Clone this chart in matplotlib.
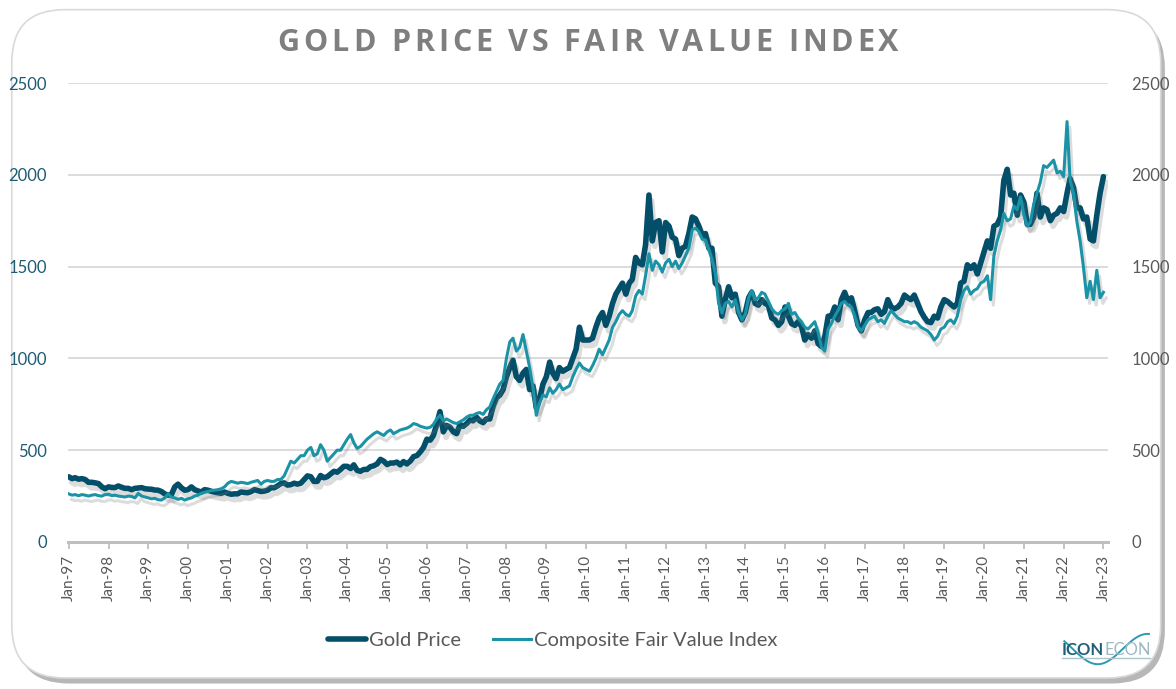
import matplotlib
matplotlib.use("Agg")
import matplotlib.pyplot as plt
import matplotlib.dates as mdates
import matplotlib.patheffects as pe
from matplotlib.patches import FancyBboxPatch
from matplotlib.lines import Line2D
import numpy as np
import pandas as pd

# monthly values, Jan-97 .. Jan-23
gold_price = [
    355, 345, 350, 342, 345, 340, 325, 325, 322, 318, 300, 290,
    300, 297, 296, 305, 298, 292, 292, 285, 292, 294, 296, 290,
    288, 287, 283, 282, 275, 262, 255, 258, 300, 315, 295, 282,
    285, 300, 285, 278, 272, 285, 282, 276, 272, 268, 265, 272,
    265, 260, 262, 262, 272, 270, 268, 274, 285, 280, 275, 277,
    282, 296, 295, 305, 318, 322, 310, 312, 320, 315, 320, 340,
    360, 355, 330, 330, 362, 350, 355, 370, 385, 380, 395, 412,
    412, 400, 420, 390, 385, 395, 395, 410, 415, 425, 450, 440,
    422, 430, 430, 435, 420, 438, 425, 440, 465, 470, 490, 515,
    560, 555, 580, 640, 710, 600, 635, 625, 600, 590, 640, 630,
    645, 665, 660, 680, 660, 650, 670, 670, 740, 785, 800, 830,
    900, 950, 990, 900, 880, 920, 940, 830, 850, 730, 780, 860,
    900, 980, 920, 890, 950, 930, 940, 950, 1000, 1050, 1170, 1100,
    1100, 1100, 1110, 1170, 1220, 1250, 1180, 1230, 1300, 1350, 1380, 1410,
    1350, 1410, 1430, 1550, 1520, 1510, 1620, 1890, 1640, 1740, 1750, 1580,
    1740, 1720, 1660, 1650, 1560, 1600, 1610, 1680, 1770, 1760, 1720, 1670,
    1680, 1600, 1600, 1410, 1390, 1230, 1320, 1390, 1330, 1350, 1250, 1210,
    1250, 1330, 1360, 1300, 1290, 1320, 1300, 1290, 1220, 1210, 1180, 1200,
    1280, 1230, 1190, 1180, 1200, 1175, 1100, 1130, 1110, 1150, 1080, 1065,
    1120, 1230, 1230, 1280, 1210, 1320, 1360, 1310, 1330, 1260, 1180, 1150,
    1210, 1250, 1250, 1265, 1270, 1240, 1255, 1320, 1280, 1270, 1280, 1300,
    1345, 1330, 1320, 1345, 1300, 1255, 1225, 1200, 1195, 1230, 1220, 1280,
    1320, 1310, 1295, 1280, 1300, 1410, 1420, 1510, 1490, 1510, 1460, 1520,
    1580, 1640, 1600, 1720, 1730, 1770, 1970, 2030, 1890, 1900, 1780, 1890,
    1850, 1730, 1730, 1770, 1900, 1770, 1820, 1810, 1750, 1780, 1790, 1820,
    1800, 1900, 1980, 1930, 1820, 1820, 1760, 1770, 1650, 1640, 1780, 1900,
    1990,
]

fair_value = [
    262, 255, 258, 252, 258, 255, 250, 255, 258, 252, 250, 258,
    260, 252, 255, 250, 248, 245, 250, 248, 240, 265, 250, 245,
    240, 235, 238, 230, 228, 240, 262, 245, 240, 232, 238, 228,
    235, 240, 250, 255, 265, 270, 275, 280, 282, 285, 290, 300,
    320, 330, 325, 320, 325, 322, 318, 325, 330, 335, 315, 330,
    335, 330, 330, 340, 340, 360, 400, 440, 430, 450, 470, 470,
    500, 515, 470, 480, 530, 500, 440, 460, 480, 500, 500, 530,
    560, 585, 540, 510, 520, 540, 560, 575, 590, 600, 590, 580,
    600, 610, 590, 600, 610, 615, 620, 630, 645, 640, 630, 625,
    620, 625, 640, 670, 690, 660, 670, 660, 650, 645, 655, 665,
    680, 690, 690, 700, 705, 695, 720, 735, 780, 820, 860, 880,
    1000, 1090, 1110, 1040, 1060, 1130, 1040, 950, 840, 690, 760, 800,
    790, 840, 810, 830, 860, 830, 840, 850, 900, 940, 975, 950,
    940, 930, 960, 1000, 1050, 1020, 1060, 1100, 1170, 1200, 1240, 1260,
    1240, 1230, 1260, 1340, 1370, 1350, 1450, 1570, 1480, 1530, 1510, 1470,
    1520, 1540, 1500, 1530, 1490, 1520, 1560, 1600, 1700, 1710, 1690, 1650,
    1645, 1590, 1540, 1465, 1300, 1247, 1300, 1310, 1280, 1320, 1250, 1210,
    1240, 1330, 1370, 1320, 1330, 1360, 1350, 1310, 1270, 1250, 1240, 1260,
    1270, 1300, 1240, 1250, 1220, 1200, 1170, 1160, 1180, 1200, 1140, 1060,
    1040, 1160, 1190, 1230, 1260, 1300, 1310, 1290, 1280, 1230, 1170, 1150,
    1180, 1210, 1220, 1230, 1200, 1210, 1190, 1230, 1260, 1240, 1220, 1210,
    1200, 1200, 1190, 1200, 1190, 1170, 1160, 1150, 1130, 1100, 1120, 1160,
    1170, 1200, 1210, 1190, 1230, 1320, 1370, 1390, 1350, 1370, 1380, 1410,
    1420, 1450, 1320, 1560, 1640, 1700, 1790, 1750, 1760, 1830, 1810, 1880,
    1780, 1720, 1740, 1840, 1900, 1960, 2050, 2040, 2060, 2080, 2010, 2020,
    1990, 2290, 1970, 1900, 1750, 1640, 1500, 1330, 1420, 1320, 1480, 1330,
    1360,
]

dates = pd.date_range("1997-01-01", periods=len(gold_price), freq="MS")
y_ticks = [0, 500, 1000, 1500, 2000, 2500]
title = "GOLD PRICE VS FAIR VALUE INDEX"

gold_col = "#034e69"
fv_col = "#1b93a7"
grey_txt = "#595959"
left_txt = "#1f5b75"

plt.rcParams["font.family"] = ["Lato", "DejaVu Sans"]

fig = plt.figure(figsize=(11.76, 6.89), dpi=100)

# rounded card with shadow
card = FancyBboxPatch((0.010, 0.016), 0.977, 0.970,
                      boxstyle="round,pad=0,rounding_size=0.045",
                      transform=fig.transFigure, facecolor="white",
                      edgecolor="#d9d9d9", linewidth=1.2, zorder=-10,
                      mutation_aspect=1176 / 689)
card.set_path_effects([pe.SimplePatchShadow(offset=(3, -4), shadow_rgbFace="#888888", alpha=0.6),
                       pe.Normal()])
fig.patches.append(card)

ax = fig.add_axes([0.0578, 0.2134, 0.8842, 0.6661])
ax.set_facecolor("none")

shadow = [pe.SimpleLineShadow(offset=(2, -4), shadow_color="#777777", alpha=0.25), pe.Normal()]
ax.plot(dates, gold_price, color=gold_col, lw=4.0,
        solid_capstyle="round", path_effects=shadow, zorder=3)
ax.plot(dates, fair_value, color=fv_col, lw=2.2,
        path_effects=shadow, zorder=4)

ax.set_ylim(0, 2500)
ax.set_yticks(y_ticks)
ax.set_xlim(pd.Timestamp("1996-12-25"), pd.Timestamp("2023-02-10"))
ax.xaxis.set_major_locator(mdates.YearLocator(1, month=1, day=1))
ax.xaxis.set_major_formatter(mdates.DateFormatter("%b-%y"))
ax.grid(axis="y", color="#d9d9d9", lw=1.3)
ax.set_axisbelow(True)
for s in ["top", "right", "left"]:
    ax.spines[s].set_visible(False)
ax.spines["bottom"].set_color("#bfbfbf")
ax.spines["bottom"].set_linewidth(2.2)
ax.tick_params(axis="x", rotation=90, labelsize=11, labelcolor=grey_txt,
               color="#bfbfbf", length=5, width=1.3, pad=4)
ax.tick_params(axis="y", length=0, labelsize=12, labelcolor=left_txt, pad=15)

ax2 = ax.twinx()
ax2.set_ylim(0, 2500)
ax2.set_yticks(y_ticks)
for s in ["top", "right", "left", "bottom"]:
    ax2.spines[s].set_visible(False)
ax2.tick_params(axis="y", length=0, labelsize=12, labelcolor=grey_txt, pad=17)

# title with letter spacing: place characters one by one
renderer = fig.canvas.get_renderer()
tkw = dict(fontsize=22, fontweight="bold", color="#7f7f7f",
           family=["Open Sans", "DejaVu Sans"], va="center", ha="left")
spacing = 3.9  # px between letters
widths = []
for ch in title:
    t = fig.text(0, 0, ch if ch != " " else "_", **tkw)
    widths.append(t.get_window_extent(renderer).width * (0.6 if ch == " " else 1.0))
    t.remove()
total = sum(widths) + spacing * (len(title) - 1)
x = (fig.bbox.width - total) / 2
for ch, w in zip(title, widths):
    if ch != " ":
        fig.text(x / fig.bbox.width, 0.937, ch, **tkw)
    x += w + spacing

handles = [Line2D([], [], color=gold_col, lw=4.0, solid_capstyle="round"),
           Line2D([], [], color=fv_col, lw=2.2)]
leg = fig.legend(handles, ["Gold Price", "Composite Fair Value Index"],
                 loc="center", bbox_to_anchor=(0.47, 0.071), ncol=2, frameon=False,
                 fontsize=14.5, handlelength=1.9, handletextpad=0.15, columnspacing=1.6)
for t in leg.get_texts():
    t.set_color(grey_txt)

# logo
fig.text(0.903, 0.057, "ICON", ha="left", va="center", fontsize=12, fontweight="bold",
         color="#1f5f78")
fig.text(0.9395, 0.057, "ECON", ha="left", va="center", fontsize=12, color="#9fb8c2")
wx = np.linspace(0.905, 0.977, 60)
wy = 0.058 + 0.022 * np.sin((wx - 0.905) / 0.072 * 2 * np.pi * 0.85 + 2.6)
fig.add_artist(plt.Line2D(wx, wy, color="#2a9bb0", lw=1.4, transform=fig.transFigure))
fig.add_artist(plt.Line2D([0.903, 0.978], [0.045, 0.045], color="#b0c4cc", lw=1.0,
                          transform=fig.transFigure))

fig.savefig("out.png", dpi=100)
